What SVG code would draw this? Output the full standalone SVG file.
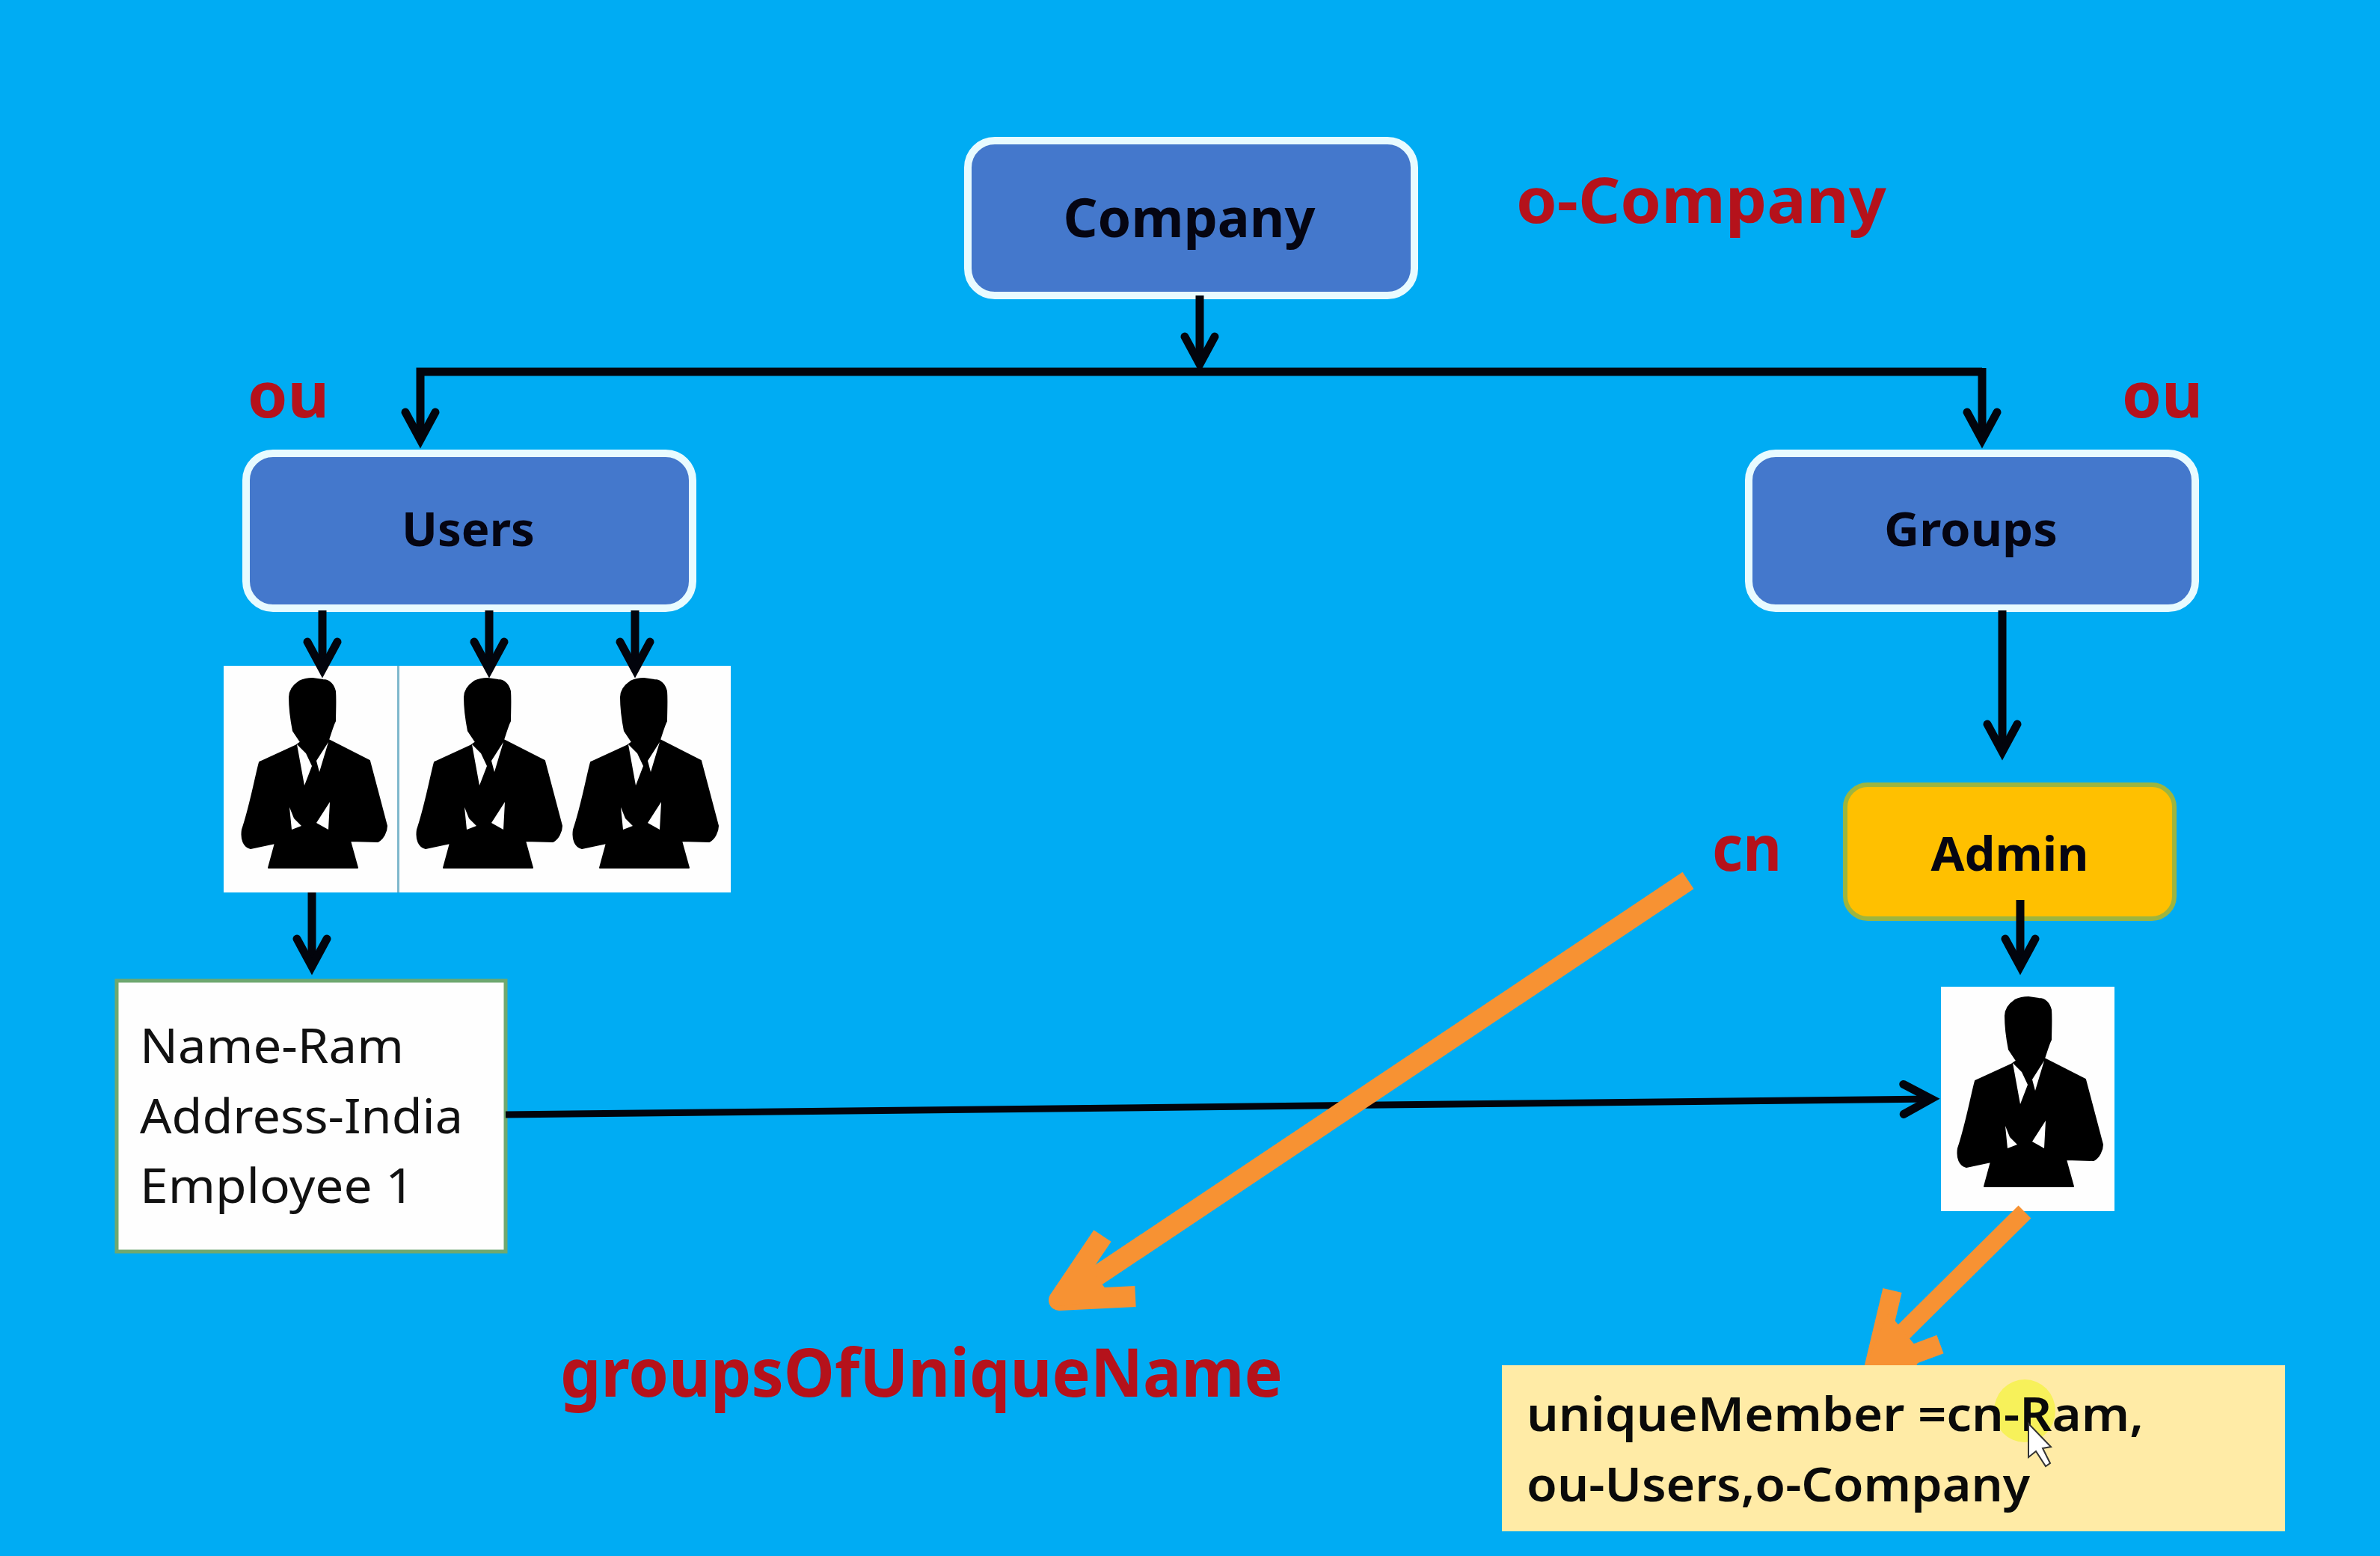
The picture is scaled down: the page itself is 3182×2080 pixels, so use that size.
<svg xmlns="http://www.w3.org/2000/svg" xmlns:xlink="http://www.w3.org/1999/xlink" width="3182" height="2080" viewBox="0 0 3182 2080">
<style>
text{font-family:"Noto Sans","Open Sans","Liberation Sans",sans-serif}
.blue{fill:#4478CC;stroke:#E8FBFF;stroke-width:10}
.lbl{font-weight:700;fill:#050512}
.red{font-weight:700;fill:#B5121B}
.body{font-weight:400;fill:#111}
.note{font-weight:600;fill:#0A0A0A}
.conn{fill:none;stroke:#02040C;stroke-width:11}
.org{fill:none;stroke:#F79233;stroke-linejoin:round;stroke-linecap:butt}
.white{fill:#FEFEFE}
</style>
<defs>
<marker id="ah" markerUnits="userSpaceOnUse" markerWidth="80" markerHeight="80" refX="50" refY="40" orient="auto" overflow="visible">
<path d="M13,20 L50,40 L13,60" fill="none" stroke="#02040C" stroke-width="11" stroke-linecap="round"/>
</marker>
<g id="man">
<path fill="#000" stroke="#000" stroke-width="2" stroke-linejoin="round" d="M0,0 C-8,0 -14,2 -18,4 C-24,8 -31,14 -31,25 C-31,45 -28,60 -26,70 L-16,85 L-23,90 L-71,112 C-75,125 -83,170 -94,202 C-96,215 -92,225 -83,227 L-50,220 L-59,253 L60,253 L50,217 L87,218 C94,215 99,205 99,197 L76,110 L21,82 C25,70 28,60 30,57 C30,45 31,30 30,17 C28,8 22,2 14,2 Z"/>
<path fill="#fff" d="M-21,88 L-11,143 L-1,117 L-9,100 Z M21,85 L9,125 L5,110 Z M-31,172 L-28,202 L-15,197 L-25,187 Z M23,165 L5,193 L21,202 Z"/>
</g>
</defs>
<rect width="3182" height="2080" fill="#00ACF3"/>

<g id="people-image">
<rect class="white" x="299" y="890" width="678" height="303"/>
<rect x="531" y="890" width="3" height="303" fill="#7FB8CC"/>
<use xlink:href="#man" href="#man" x="418" y="907"/>
<use xlink:href="#man" href="#man" x="652" y="907"/>
<use xlink:href="#man" href="#man" x="861" y="907"/>
</g>
<g id="person-admin">
<rect class="white" x="2595" y="1319" width="232" height="300"/>
<use xlink:href="#man" href="#man" x="2712" y="1333"/>
</g>
<g id="node-company">
<rect class="blue" x="1294" y="188" width="597" height="207" rx="36"/>
<text class="lbl" x="1590" y="317" font-size="72" text-anchor="middle" textLength="337" lengthAdjust="spacingAndGlyphs">Company</text>
</g>
<g id="node-users">
<rect class="blue" x="329" y="606" width="597" height="207" rx="36"/>
<text class="lbl" x="626" y="730" font-size="62" text-anchor="middle" textLength="178" lengthAdjust="spacingAndGlyphs">Users</text>
</g>
<g id="node-groups">
<rect class="blue" x="2338" y="606" width="597" height="207" rx="36"/>
<text class="lbl" x="2635" y="730" font-size="62" text-anchor="middle" textLength="232" lengthAdjust="spacingAndGlyphs">Groups</text>
</g>
<g id="node-admin">
<rect x="2467" y="1049" width="440" height="179" rx="30" fill="#FFC000" stroke="#9DB53F" stroke-width="6"/>
<text class="lbl" x="2687" y="1164" font-size="62" text-anchor="middle" textLength="211" lengthAdjust="spacingAndGlyphs">Admin</text>
</g>
<g id="node-record">
<rect x="156" y="1311" width="520" height="362" fill="#FEFEFE" stroke="#6FA870" stroke-width="5"/>
<text class="body" x="187" y="1421" font-size="64" textLength="353" lengthAdjust="spacingAndGlyphs">Name-Ram</text>
<text class="body" x="187" y="1515" font-size="64" textLength="432" lengthAdjust="spacingAndGlyphs">Address-India</text>
<text class="body" x="187" y="1608" font-size="64" textLength="367" lengthAdjust="spacingAndGlyphs">Employee 1</text>
</g>

<g id="connectors">
<path class="conn" d="M1604,395 V487" marker-end="url(#ah)"/>
<path class="conn" d="M2650,497 H562 V588" marker-end="url(#ah)"/>
<path class="conn" d="M2650,492 V588" marker-end="url(#ah)"/>
<path class="conn" d="M431,816 V895" marker-end="url(#ah)"/>
<path class="conn" d="M654,816 V895" marker-end="url(#ah)"/>
<path class="conn" d="M849,816 V895" marker-end="url(#ah)"/>
<path class="conn" d="M417,1193 V1292" marker-end="url(#ah)"/>
<path class="conn" d="M2677,816 V1005" marker-end="url(#ah)"/>
<path class="conn" d="M2701,1203 V1292" marker-end="url(#ah)"/>
<path class="conn" style="stroke-width:9" d="M676,1490 L2582,1469" marker-end="url(#ah)"/>
<path class="org" stroke-width="27" d="M2257,1177 L1430,1730"/>
<path class="org" stroke-width="28" stroke-linecap="round" d="M1474,1652 L1416,1738 L1518,1733"/>
<path fill="#F79233" d="M1405,1747 L1445,1680 L1490,1738 Z"/>
<path class="org" stroke-width="24" d="M2707,1620 L2510,1815"/>
<path class="org" stroke-width="26" stroke-linecap="round" d="M2530,1725 L2505,1830 L2594,1797"/>
<path fill="#F79233" d="M2492,1830 L2525,1755 L2570,1810 L2560,1830 Z"/>
</g>

<g id="node-note">
<rect x="2008" y="1825" width="1047" height="222" fill="#FFEBA6"/>
<ellipse cx="2707" cy="1886" rx="41" ry="42" fill="#F7F15A"/>
<text class="note" x="2041" y="1913" font-size="64" textLength="825" lengthAdjust="spacingAndGlyphs">uniqueMember =cn-Ram,</text>
<text class="note" x="2041" y="2007" font-size="64" textLength="673" lengthAdjust="spacingAndGlyphs">ou-Users,o-Company</text>
<path d="M2712,1903 L2712,1948 L2722,1940 L2735,1960 L2741,1956 L2731,1936 L2742,1934 Z" fill="#fff" stroke="#333" stroke-width="2"/>
</g>

<g id="labels">
<text class="red" x="2027" y="298" font-size="84" textLength="495" lengthAdjust="spacingAndGlyphs">o-Company</text>
<text class="red" x="331" y="558" font-size="84" textLength="109" lengthAdjust="spacingAndGlyphs">ou</text>
<text class="red" x="2837" y="558" font-size="84" textLength="108" lengthAdjust="spacingAndGlyphs">ou</text>
<text class="red" x="2289" y="1164" font-size="84" textLength="93" lengthAdjust="spacingAndGlyphs">cn</text>
<text class="red" x="749" y="1867" font-size="90" textLength="966" lengthAdjust="spacingAndGlyphs">groupsOfUniqueName</text>
</g>
</svg>
